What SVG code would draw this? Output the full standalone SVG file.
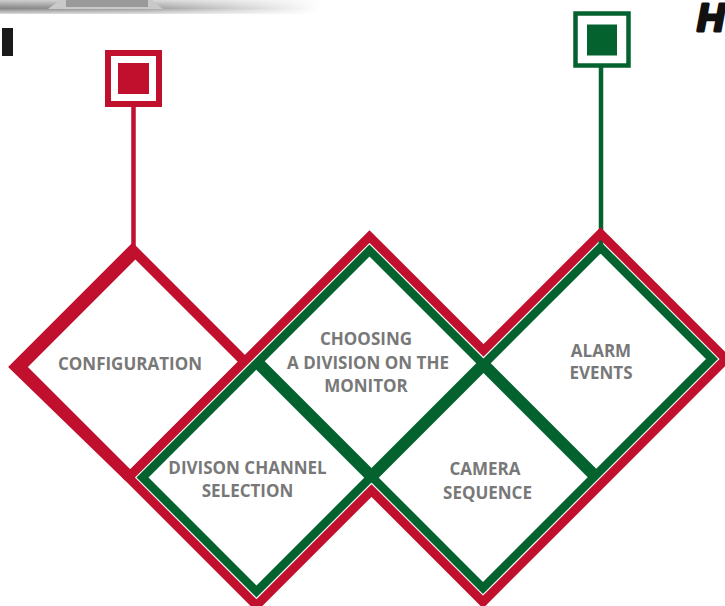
<svg xmlns="http://www.w3.org/2000/svg" width="725" height="606" viewBox="0 0 725 606">
<defs>
<linearGradient id="strip" x1="0" y1="0" x2="1" y2="0">
<stop offset="0" stop-color="#858585"/>
<stop offset="0.45" stop-color="#9c9c9c"/>
<stop offset="1" stop-color="#ffffff"/>
</linearGradient>
<linearGradient id="stripV" x1="0" y1="0" x2="0" y2="1">
<stop offset="0" stop-color="#ffffff" stop-opacity="0.6"/>
<stop offset="0.6" stop-color="#ffffff" stop-opacity="0"/>
<stop offset="1" stop-color="#ffffff" stop-opacity="0.7"/>
</linearGradient>
</defs>
<style>
.red{fill:none;stroke:#C1102E;stroke-linejoin:miter;stroke-miterlimit:10}
.grn{fill:none;stroke:#04622F;stroke-linejoin:miter;stroke-miterlimit:10}
.lbl{font-family:"Open Sans","Liberation Sans",sans-serif;font-weight:700;font-size:17px;fill:#787878;text-anchor:middle}
</style>
<rect width="725" height="606" fill="#ffffff"/>
<g id="decor">
<rect x="0" y="0" width="320" height="14" fill="url(#strip)"/>
<rect x="0" y="0" width="320" height="14" fill="url(#stripV)"/>
<polygon points="48,9 60,0 152,0 163,9" fill="#c9c9c9"/>
<rect x="66" y="0" width="82" height="7" fill="#9a9a9a"/>
<rect x="2" y="28" width="11" height="28" fill="#1a1a1a"/>
<text x="697" y="31" font-family="'Liberation Sans',Arial,sans-serif" font-weight="700" font-style="italic" font-size="38" fill="#111111" stroke="#111111" stroke-width="3" stroke-linejoin="round">H</text>
</g>
<g id="connectors">
<line x1="133.5" y1="106" x2="133.5" y2="246" stroke="#C1102E" stroke-width="4.5"/>
<line x1="601" y1="66" x2="601" y2="245" stroke="#04622F" stroke-width="4.5"/>
</g>
<g id="marker-red">
<rect x="108" y="53" width="51" height="51" fill="none" stroke="#C1102E" stroke-width="6"/>
<rect x="118" y="63" width="31" height="31" fill="#C1102E"/>
</g>
<g id="marker-green">
<rect x="575.5" y="13.5" width="53" height="52" fill="none" stroke="#04622F" stroke-width="4.5"/>
<rect x="587" y="24.5" width="30" height="31" fill="#04622F"/>
</g>
<g id="frame">
<path fill="#C1102E" fill-rule="evenodd" d="M132.6,242.5 L8.1,367 L125.3,480.7 L248,358 Z M135.4,259.5 L237.75,361.85 L130.25,469.35 L27.9,367 Z"/>
<path class="red" stroke-width="9" d="M128.5,477.5 L369.5,236.5 L483.5,350.5 L600.5,233.5 L726,359 L483,602 L371.5,490.5 L256.5,605.5 Z"/>
<path class="grn" stroke-width="8.5" d="M142.5,477.5 L369.5,250.5 L483.5,364.5 L600.5,247.5 L712,359 L483,588 L371.5,476.5 L256.5,591.5 Z"/>
<path class="grn" stroke-width="12" d="M257.5,362.5 L371.5,476.5 M371.5,476.5 L483.5,364.5 M483.5,364.5 L595,476"/>
</g>
<g id="node-configuration"><text class="lbl" x="130" y="370">CONFIGURATION</text></g>
<g id="node-choosing">
<text class="lbl" x="366" y="345">CHOOSING</text>
<text class="lbl" x="368" y="368.5">A DIVISION ON THE</text>
<text class="lbl" x="366" y="392">MONITOR</text>
</g>
<g id="node-alarm">
<text class="lbl" x="601" y="357">ALARM</text>
<text class="lbl" x="601" y="379">EVENTS</text>
</g>
<g id="node-division">
<text class="lbl" x="247.5" y="473.5">DIVISON CHANNEL</text>
<text class="lbl" x="247.5" y="497">SELECTION</text>
</g>
<g id="node-camera">
<text class="lbl" x="485" y="475">CAMERA</text>
<text class="lbl" x="487.5" y="498.5">SEQUENCE</text>
</g>
</svg>
